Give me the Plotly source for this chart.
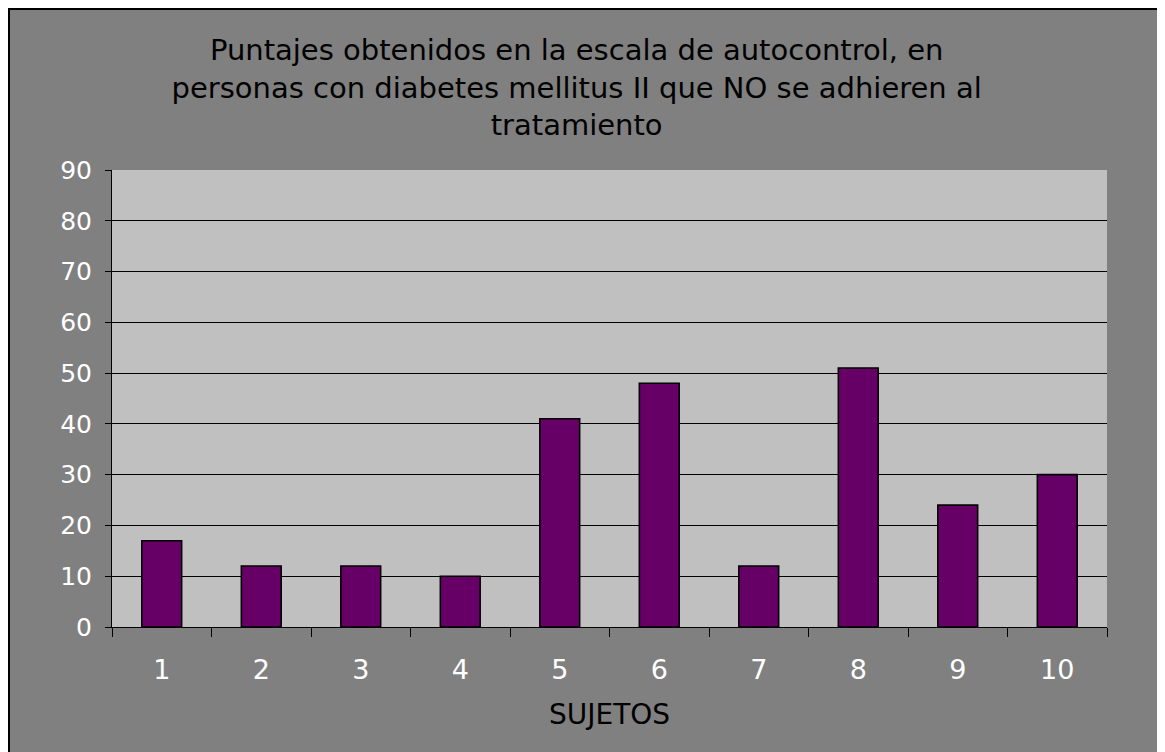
import plotly.graph_objects as go

W, H = 1157, 752
categories = ["1", "2", "3", "4", "5", "6", "7", "8", "9", "10"]
values = [17, 12, 12, 10, 41, 48, 12, 51, 24, 30]
y_ticks = [0, 10, 20, 30, 40, 50, 60, 70, 80, 90]
title_text = ("Puntajes obtenidos en la escala de autocontrol, en<br>"
              "personas con diabetes mellitus II que NO se adhieren al<br>"
              "tratamiento")
x_title = "SUJETOS"

# plot-area edges in figure pixels (page body adds an 8px offset)
L, R, T, B = 104, 1099, 162, 619
pw, ph = R - L, B - T

def px(x):
    return (x - L) / pw

def py(y):
    return (B - y) / ph

FONT = "DejaVu Sans"

fig = go.Figure(go.Bar(
    x=categories, y=values,
    marker=dict(color="#660066", line=dict(color="black", width=1.6)),
))

shapes = [
    dict(type="line", xref="paper", yref="paper", x0=px(1), x1=px(1), y0=py(0), y1=py(H + 5),
         line=dict(color="black", width=2), layer="above"),
    dict(type="line", xref="paper", yref="paper", x0=px(0), x1=px(W), y0=py(1), y1=py(1),
         line=dict(color="black", width=2), layer="above"),
    dict(type="line", xref="paper", yref="paper", x0=px(W - 1), x1=px(W - 1), y0=py(0), y1=py(H + 5),
         line=dict(color="black", width=2), layer="above"),
]

fig.update_layout(
    width=W, height=H,
    margin=dict(l=L, r=W - R, t=T, b=H - B, pad=0),
    paper_bgcolor="#808080",
    plot_bgcolor="#C0C0C0",
    bargap=0.6,
    showlegend=False,
    shapes=shapes,
    title=dict(text=title_text, x=0.4915, xanchor="center", xref="container",
               y=1 - 52 / H, yanchor="middle", yref="container",
               font=dict(family=FONT, size=29, color="black")),
    font=dict(family=FONT, color="white", size=25),
)
fig.update_yaxes(range=[0, 90], tickvals=y_ticks, showgrid=True, gridcolor="black", gridwidth=1,
                 showline=True, linecolor="black", linewidth=1, ticks="outside", ticklen=6,
                 tickcolor="black", tickfont=dict(family=FONT, size=25, color="white"),
                 ticklabelstandoff=8, zeroline=False, fixedrange=True)
fig.update_xaxes(showline=True, linecolor="black", linewidth=1, ticks="outside", ticklen=9,
                 tickcolor="black", tickson="boundaries", showgrid=False,
                 tickfont=dict(family=FONT, size=27, color="white"), ticklabelstandoff=19,
                 title=dict(text=x_title, font=dict(family=FONT, size=28, color="black"), standoff=19))

fig.write_html("out.html")
